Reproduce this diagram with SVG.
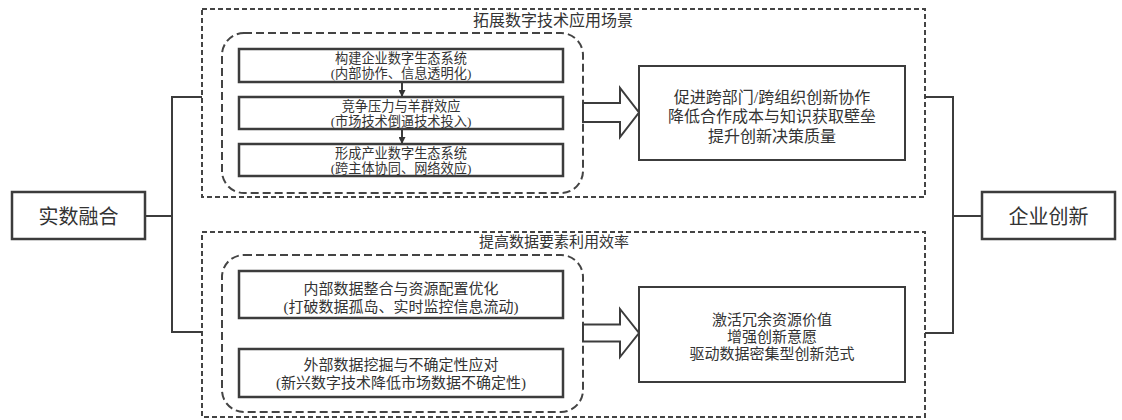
<svg xmlns="http://www.w3.org/2000/svg" width="1122" height="420" viewBox="0 0 1122 420">
<style>
  text { font-family: "Liberation Serif", "Noto Sans CJK SC", serif; fill: #333; text-anchor: middle; }
  .box { fill: #fff; stroke: #3c3c3c; stroke-width: 2.5; }
  .rbox { fill: #fff; stroke: #3c3c3c; stroke-width: 2; }
  .outer { fill: none; stroke: #444; stroke-width: 2; stroke-dasharray: 5 3; }
  .inner { fill: none; stroke: #444; stroke-width: 2; stroke-dasharray: 8 4; }
  .conn { fill: none; stroke: #3c3c3c; stroke-width: 2; }
  .barrow { fill: #fff; stroke: #3c3c3c; stroke-width: 2; stroke-linejoin: miter; }
  .t13 { font-size: 13.2px; }
  .t15 { font-size: 15px; }
  .t16 { font-size: 16px; }
  .t20 { font-size: 20px; }
</style>
<defs>
  <marker id="ah" viewBox="0 0 10 10" refX="10" refY="5" markerWidth="7" markerHeight="7" markerUnits="userSpaceOnUse" orient="auto">
    <path d="M0,0 L10,5 L0,10 z" fill="#333"/>
  </marker>
</defs>
<rect width="1122" height="420" fill="#fff"/>

<g id="group-top">
  <rect class="outer" x="202" y="9" width="723" height="188"/>
  <text class="t16" x="553" y="26">拓展数字技术应用场景</text>
  <rect class="inner" x="222" y="33" width="361" height="160" rx="22" ry="22"/>
</g>
<g id="group-bottom">
  <rect class="outer" x="202" y="232" width="723" height="185"/>
  <text class="t15" x="554" y="247">提高数据要素利用效率</text>
  <rect class="inner" x="222" y="255" width="361" height="157" rx="22" ry="22"/>
</g>

<g id="connectors">
  <polyline class="conn" points="145,216 172,216"/>
  <polyline class="conn" points="202,97 172,97 172,332 202,332"/>
  <polyline class="conn" points="925,97 953,97 953,333 925,333"/>
  <polyline class="conn" points="953,216 982,216"/>
  <line class="conn" x1="402" y1="82" x2="402" y2="97" marker-end="url(#ah)"/>
  <line class="conn" x1="402" y1="129" x2="402" y2="144" marker-end="url(#ah)"/>
  <polygon class="barrow" points="583,103 620,103 620,88 639,112.5 620,137 620,122 583,122"/>
  <polygon class="barrow" points="583,324.5 620,324.5 620,309 639,333 620,357 620,341.5 583,341.5"/>
</g>

<g id="node-shishu">
  <rect class="box" x="12" y="192" width="133" height="47"/>
  <text class="t20" x="78.5" y="224">实数融合</text>
</g>
<g id="node-qiye">
  <rect class="box" x="982" y="192" width="133" height="47"/>
  <text class="t20" x="1048.5" y="224">企业创新</text>
</g>

<g id="node-t1">
  <rect class="box" x="239" y="49" width="324" height="33"/>
  <text class="t13" x="401" y="63">构建企业数字生态系统</text>
  <text class="t13" x="401" y="78">(内部协作、信息透明化)</text>
</g>
<g id="node-t2">
  <rect class="box" x="239" y="97" width="324" height="32"/>
  <text class="t13" x="401" y="110.5">竞争压力与羊群效应</text>
  <text class="t13" x="401" y="125.5">(市场技术倒逼技术投入)</text>
</g>
<g id="node-t3">
  <rect class="box" x="239" y="144" width="324" height="32"/>
  <text class="t13" x="401" y="157.5">形成产业数字生态系统</text>
  <text class="t13" x="401" y="172.5">(跨主体协同、网络效应)</text>
</g>
<g id="node-tr">
  <rect class="rbox" x="639" y="66" width="266" height="94"/>
  <text class="t16" x="772" y="102.5">促进跨部门/跨组织创新协作</text>
  <text class="t16" x="772" y="122">降低合作成本与知识获取壁垒</text>
  <text class="t16" x="772" y="141.5">提升创新决策质量</text>
</g>

<g id="node-b1">
  <rect class="box" x="239" y="271" width="324" height="47"/>
  <text class="t15" x="401" y="293.5">内部数据整合与资源配置优化</text>
  <text class="t15" x="401" y="311.5">(打破数据孤岛、实时监控信息流动)</text>
</g>
<g id="node-b2">
  <rect class="box" x="239" y="349" width="324" height="48"/>
  <text class="t15" x="401" y="369.5">外部数据挖掘与不确定性应对</text>
  <text class="t15" x="401" y="387.5">(新兴数字技术降低市场数据不确定性)</text>
</g>
<g id="node-br">
  <rect class="rbox" x="639" y="287" width="266" height="95"/>
  <text class="t15" x="772" y="325">激活冗余资源价值</text>
  <text class="t15" x="772" y="342">增强创新意愿</text>
  <text class="t15" x="772" y="359">驱动数据密集型创新范式</text>
</g>
</svg>
